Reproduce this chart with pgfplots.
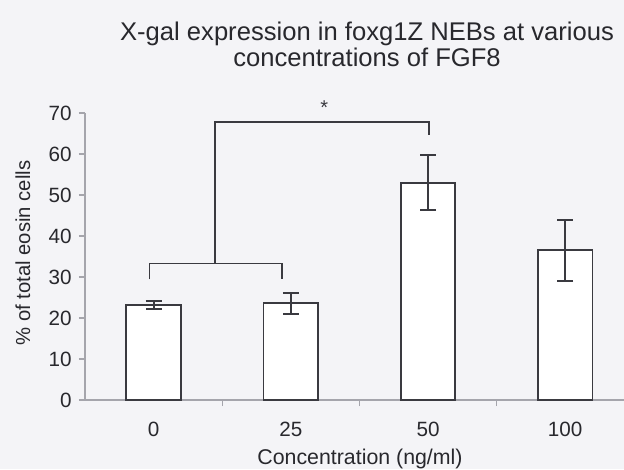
\documentclass[border=0pt]{standalone}
\usepackage{pgfplots}
\pgfplotsset{compat=1.18}
\usepackage{fontspec}
\setmainfont{Liberation Sans}
\definecolor{bg}{RGB}{244,244,247}
\definecolor{ink}{RGB}{58,58,64}
\definecolor{axisgray}{RGB}{165,165,172}
\definecolor{txt}{RGB}{40,40,45}

\pgfplotstableread{
x y e
0 23.1 1.0
1 23.6 2.6
2 53.0 6.7
3 36.5 7.4
}\bardata

\begin{document}
\begin{tikzpicture}
\fill[bg] (0,0) rectangle (468pt,351.75pt);
\begin{axis}[
  at={(63.75pt,51.75pt)}, anchor=south west,
  width=404.4pt, height=215.25pt, scale only axis,
  xmin=-0.5, xmax=3.43, ymin=0, ymax=70,
  axis lines*=left,
  axis line style={axisgray, line width=0.8pt},
  clip=false,
  tick align=outside,
  major tick length=4.5pt, minor tick length=4.5pt,
  ytick={0,10,...,70},
  xtick={0,1,2,3}, xticklabels={0,25,50,100},
  minor xtick={0.5,1.5,2.5},
  major x tick style={draw=none},
  minor x tick style={axisgray, line width=0.8pt},
  major y tick style={axisgray, line width=0.8pt},
  /pgf/number format/assume math mode=true,
  tick label style={font=\fontsize{15.5}{18}\selectfont, text=txt},
  yticklabel style={anchor=east, inner sep=0pt, xshift=-5.25pt},
  xticklabel style={anchor=north, inner sep=0pt, yshift=-12pt},
]
\addplot[ybar, bar width=41pt, draw=ink, fill=white, line width=1.4pt,
  error bars/.cd, y dir=both, y explicit,
  error bar style={ink, line width=1.4pt},
  error mark options={rotate=90, mark size=6pt, ink, line width=1.4pt}]
  table[x=x, y=y, y error=e]{\bardata};
\addplot[ink, line width=1.4pt, no marks] coordinates {(-0.03,29.4) (-0.03,33.3) (0.934,33.3) (0.934,29.4)};
\addplot[ink, line width=1.4pt, no marks] coordinates {(0.448,33.3) (0.448,67.8) (2.01,67.8) (2.01,64.6)};
\node[anchor=base, inner sep=0pt, text=ink, font=\fontsize{15}{15}\selectfont] at (axis cs:1.243,69.6) {*};
\end{axis}
\node[anchor=base, inner sep=0pt, text=txt, font=\fontsize{19.2}{22}\selectfont] at (275.25pt,321.75pt) {X-gal expression in foxg1Z NEBs at various};
\node[anchor=base, inner sep=0pt, text=txt, font=\fontsize{19.2}{22}\selectfont] at (275.25pt,302.25pt) {concentrations of FGF8};
\node[anchor=center, inner sep=0pt, rotate=90, text=txt, font=\fontsize{15.2}{18}\selectfont] at (17.25pt,162pt) {\% of total eosin cells};
\node[anchor=base, inner sep=0pt, text=txt, font=\fontsize{16}{18}\selectfont] at (270pt,3.75pt) {Concentration (ng/ml)};
\pgfresetboundingbox
\path (0,0) rectangle (468pt,351.75pt);
\end{tikzpicture}
\end{document}
